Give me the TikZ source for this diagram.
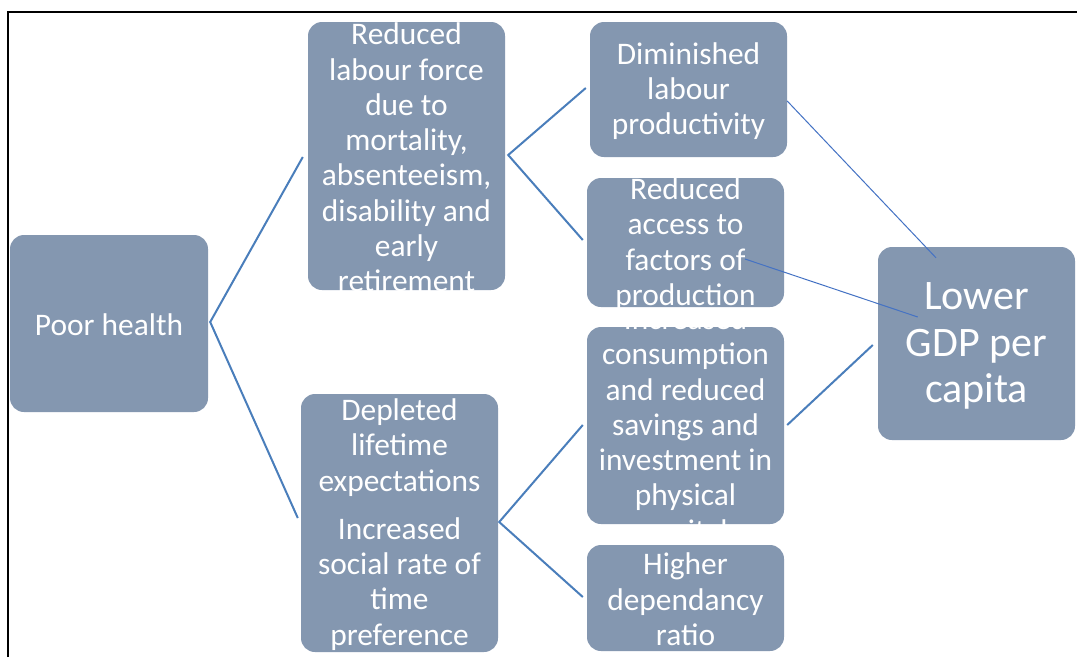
\documentclass[tikz,border=0pt]{standalone}
\usepackage{fontspec}
\setmainfont{Carlito}
\usetikzlibrary{calc}
\definecolor{boxfill}{HTML}{8497B0}
\definecolor{linkblue}{HTML}{4A7EBB}
\definecolor{thinblue}{HTML}{4472C4}
\tikzset{
  box/.style={fill=boxfill, draw=none, rounded corners=14pt, inner sep=0pt,
    minimum width=197pt},
  boxtext/.style={path picture={
    \node[text=white, align=center, inner sep=0pt, yshift=-1.5pt,
      font=\fontsize{31.4}{35.3}\selectfont]
      at (path picture bounding box.center) {#1};}},
  bigtext/.style={path picture={
    \node[text=white, align=center, inner sep=0pt, yshift=-2.5pt,
      font=\fontsize{42}{46.5}\selectfont]
      at (path picture bounding box.center) {#1};}},
  link/.style={draw=linkblue, line width=2pt},
  thinlink/.style={draw=thinblue, line width=1pt}
}
\begin{document}
\begin{tikzpicture}[x=1pt, y=-1pt]
  \useasboundingbox (0,0) rectangle (1077,657);
  \fill[white] (0,0) rectangle (1077,657);
  % frame edges
  \draw[black, line width=2.2pt] (8,657) -- (8,12) -- (1077,12);

  % boxes
  \node[box, minimum width=198pt, minimum height=177pt,
    boxtext={Poor health}] (ph) at (109,323.5) {};
  \node[box, minimum height=268pt,
    boxtext={Reduced\\labour force\\due to\\mortality,\\absenteeism,\\disability and\\early\\retirement}]
    (rl) at (406.5,156) {};
  \node[box, minimum height=258pt,
    boxtext={Depleted\\lifetime\\expectations\\[13pt]Increased\\social rate of\\time\\preference}]
    (dl) at (399.5,523) {};
  \node[box, minimum height=135pt,
    boxtext={Diminished\\labour\\productivity}] (dm) at (688.5,89.5) {};
  \node[box, minimum height=129pt,
    boxtext={Reduced\\access to\\factors of\\production}] (ra) at (685.5,242.5) {};
  \node[box, minimum height=197pt,
    boxtext={Increased\\consumption\\and reduced\\savings and\\investment in\\physical\\capital}]
    (ic) at (685.5,425.5) {};
  \node[box, minimum height=106pt,
    boxtext={Higher\\dependancy\\ratio}] (hd) at (685.5,598) {};
  \node[box, minimum height=193pt,
    bigtext={Lower\\GDP per\\capita}] (gdp) at (976.5,343.5) {};

  % connectors
  \draw[link] ($(rl.west)+(-5,1)$) -- ($(ph.east)+(2,-1.5)$) -- ($(dl.west)+(-3,-5)$);
  \draw[link] ($(dm.west)+(-4,-1.5)$) -- ($(rl.east)+(3,-1)$) -- ($(ra.west)+(-4,-2.5)$);
  \draw[link] ($(ic.west)+(-4,-0.5)$) -- ($(dl.east)+(1,-1)$) -- ($(hd.west)+(-4,-1)$);
  \draw[link] ($(ic.east)+(3,-0.5)$) -- ($(gdp.west)+(-5,1.5)$);
  \draw[thinlink] ($(dm.east)+(0,11.5)$) -- ($(gdp.north)+(-40.5,11)$);
  \draw[thinlink] ($(ra.center)+(59.5,16.5)$) -- ($(gdp.west)+(40,-26.5)$);
\end{tikzpicture}
\end{document}
